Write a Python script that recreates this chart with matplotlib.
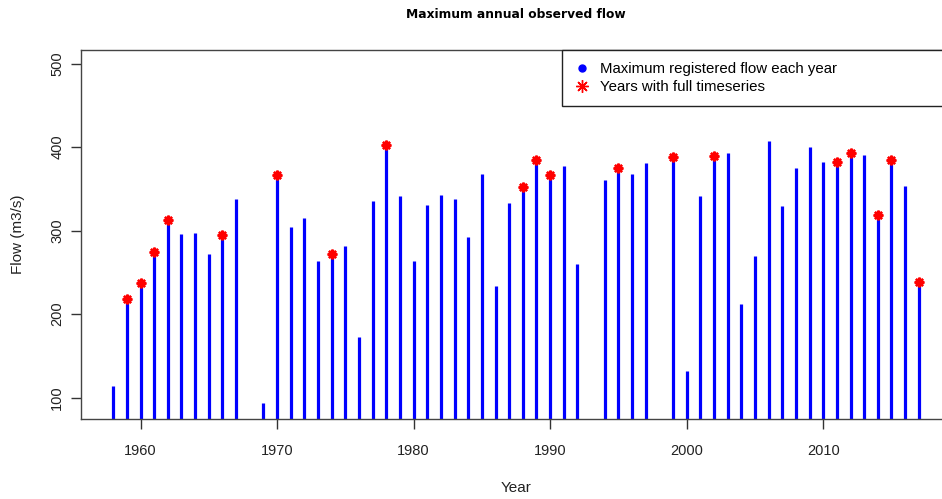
import numpy as np
import matplotlib.pyplot as plt
from matplotlib.lines import Line2D

# Maximum observed flow per year (m3/s)
years = [1958, 1959, 1960, 1961, 1962, 1963, 1964, 1965, 1966, 1967,
         1969, 1970, 1971, 1972, 1973, 1974, 1975, 1976, 1977, 1978,
         1979, 1980, 1981, 1982, 1983, 1984, 1985, 1986, 1987, 1988,
         1989, 1990, 1991, 1992, 1994, 1995, 1996, 1997, 1999, 2000,
         2001, 2002, 2003, 2004, 2005, 2006, 2007, 2008, 2009, 2010,
         2011, 2012, 2013, 2014, 2015, 2016, 2017]
max_flow = [114, 218, 237, 274, 313, 296, 297, 272, 295, 338,
            93, 367, 304, 315, 264, 272, 281, 172, 335, 402,
            341, 264, 331, 343, 338, 292, 368, 234, 333, 352,
            385, 367, 377, 260, 361, 375, 368, 381, 388, 132,
            341, 389, 393, 212, 269, 407, 330, 375, 400, 382,
            382, 393, 390, 319, 385, 354, 238]

# Years with a complete time series
full_years = [1959, 1960, 1961, 1962, 1966, 1970, 1974, 1978, 1988, 1989,
              1990, 1995, 1999, 2002, 2011, 2012, 2014, 2015, 2017]

flow_by_year = dict(zip(years, max_flow))
full_flow = [flow_by_year[y] for y in full_years]

plt.rcParams['font.family'] = ['Liberation Sans', 'DejaVu Sans']

W, H = 942, 499
fig = plt.figure(figsize=(W / 100, H / 100), dpi=100)
left, right, top, bottom = 81, 951, 50, 418.7
ax = fig.add_axes([left / W, 1 - bottom / H, (right - left) / W, (bottom - top) / H])

# vertical lines from the bottom of the plot (R type="h")
ymin, ymax = 74.6, 516.4
ax.vlines(years, ymin, max_flow, color='blue', lw=2.3)
ax.plot(full_years, full_flow, linestyle='none', marker=(8, 2, 0),
        color='red', markersize=7, markeredgewidth=1.7)

ax.set_xlim(1955.64, 2019.36)
ax.set_ylim(ymin, ymax)
ax.set_xticks([1960, 1970, 1980, 1990, 2000, 2010])
ax.set_yticks([100, 200, 300, 400, 500])
for lbl in ax.get_yticklabels():
    lbl.set_rotation(90)
    lbl.set_va('center')

ax.tick_params(axis='both', direction='out', length=7, width=1,
               color='#333333', labelcolor='#222222', labelsize=10.5)
ax.tick_params(axis='x', pad=11)
ax.tick_params(axis='y', pad=5)
for s in ax.spines.values():
    s.set_color('#444444')
    s.set_linewidth(1)

ax.set_xlabel('Year', fontsize=11, color='#222222', labelpad=17)
ax.set_ylabel('Flow (m3/s)', fontsize=11, color='#222222', labelpad=18)
fig.text(516 / W, 1 - 14 / H, 'Maximum annual observed flow', ha='center', va='center',
         fontsize=8.8, fontweight='bold', family='DejaVu Sans')

handles = [
    Line2D([], [], linestyle='none', marker='o', color='blue', markersize=5),
    Line2D([], [], linestyle='none', marker=(8, 2, 0), color='red',
           markersize=9, markeredgewidth=1),
]
leg = ax.legend(handles, ['Maximum registered flow each year', 'Years with full timeseries'],
                loc='upper left', bbox_to_anchor=(0.553, 0, 0.447, 1.0), mode='expand',
                fancybox=False, framealpha=1, edgecolor='#222222', borderaxespad=0,
                fontsize=10.8, handlelength=1.0, handletextpad=0.75, labelspacing=0.28,
                borderpad=0.8)
leg.get_frame().set_linewidth(1)

fig.savefig('out.png', dpi=100)
